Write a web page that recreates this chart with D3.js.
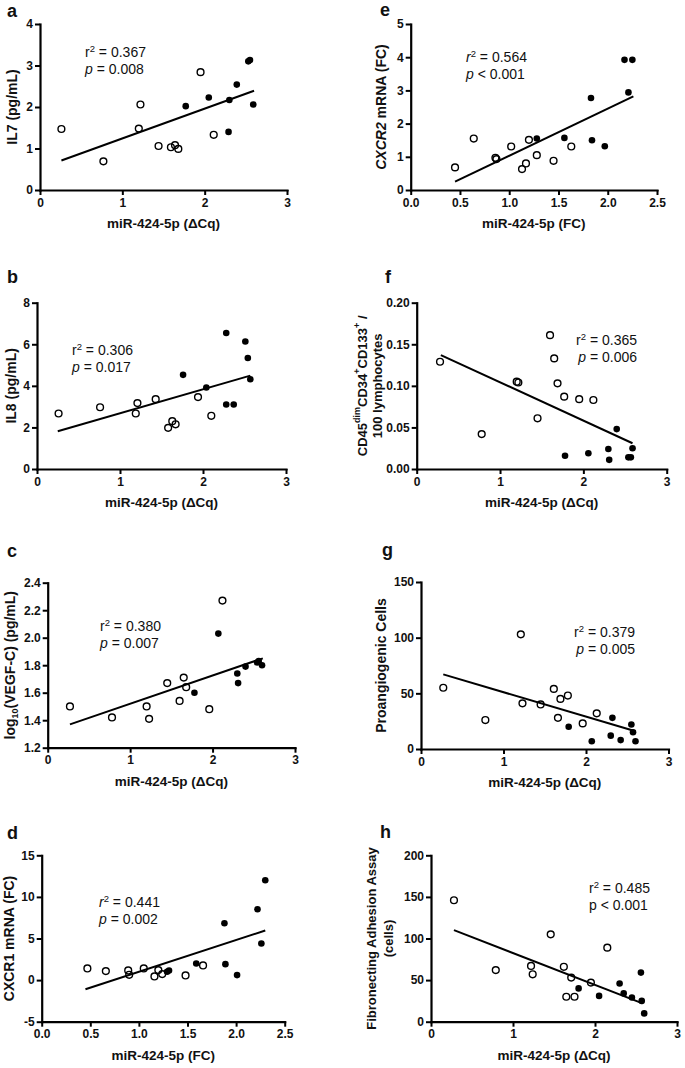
<!DOCTYPE html>
<html>
<head>
<meta charset="utf-8">
<script src="https://cdnjs.cloudflare.com/ajax/libs/d3/7.8.5/d3.min.js"></script>
<style>
	body { margin: 0; background: #fff; }
	svg text { font-family: "Liberation Sans", Arial, sans-serif; fill: #111; }
</style>
</head>
<body>
<svg id="chart" width="685" height="1068"></svg>
<script>
// Values: [miR-424-5p, measure]
var aOpen = [[0.26,1.47],[0.77,0.69],[1.20,1.48],[1.22,2.06],[1.44,1.06],[1.59,1.03],[1.64,1.08],[1.68,0.99],[1.95,2.84],[2.11,1.33]];
var aFilled = [[1.77,2.02],[2.05,2.23],[2.30,2.17],[2.29,1.40],[2.39,2.54],[2.53,3.10],[2.55,3.13],[2.59,2.06]];
var aFit = [[0.26,0.71],[2.60,2.39]];

var eOpen = [[0.45,0.68],[0.64,1.55],[0.86,0.97],[0.87,0.93],[1.02,1.31],[1.13,0.63],[1.17,0.80],[1.20,1.51],[1.28,1.05],[1.45,0.88],[1.63,1.31]];
var eFilled = [[1.28,1.55],[1.56,1.57],[1.83,2.77],[1.84,1.50],[1.97,1.32],[2.17,3.92],[2.25,3.92],[2.21,2.94]];
var eFit = [[0.45,0.25],[2.26,2.82]];

var bOpen = [[0.26,2.67],[0.76,2.97],[1.19,2.67],[1.21,3.17],[1.43,3.36],[1.58,1.98],[1.63,2.30],[1.67,2.15],[1.94,3.46],[2.10,2.56]];
var bFilled = [[1.76,4.53],[2.04,3.92],[2.28,6.54],[2.28,3.10],[2.37,3.10],[2.51,6.13],[2.54,5.34],[2.57,4.32]];
var bFit = [[0.25,1.82],[2.57,4.49]];

var fOpen = [[0.28,0.129],[0.78,0.042],[1.20,0.105],[1.22,0.104],[1.45,0.061],[1.60,0.161],[1.65,0.133],[1.69,0.103],[1.77,0.087],[1.95,0.084],[2.12,0.083]];
var fFilled = [[1.78,0.016],[2.06,0.019],[2.30,0.024],[2.31,0.011],[2.40,0.048],[2.54,0.014],[2.57,0.014],[2.59,0.025]];
var fFit = [[0.29,0.137],[2.59,0.031]];

var cOpen = [[0.27,1.50],[0.78,1.42],[1.20,1.50],[1.23,1.41],[1.45,1.67],[1.60,1.54],[1.65,1.71],[1.68,1.64],[1.96,1.48],[2.12,2.27]];
var cFilled = [[1.78,1.60],[2.07,2.03],[2.30,1.74],[2.31,1.67],[2.40,1.79],[2.54,1.82],[2.56,1.83],[2.60,1.80]];
var cFit = [[0.27,1.37],[2.61,1.85]];

var gOpen = [[0.27,55],[0.78,26],[1.21,103],[1.23,41],[1.45,40],[1.61,54],[1.66,28],[1.69,45],[1.78,48],[1.96,23],[2.13,32]];
var gFilled = [[1.79,20],[2.07,7],[2.30,12],[2.32,28],[2.42,8],[2.55,22],[2.57,15],[2.60,7]];
var gFit = [[0.27,67],[2.60,16]];

var dOpen = [[0.47,1.4],[0.66,1.08],[0.89,1.16],[0.90,0.64],[1.05,1.4],[1.16,0.44],[1.20,1.2],[1.24,0.72],[1.48,0.56],[1.66,1.76]];
var dFilled = [[1.29,1.0],[1.31,1.15],[1.59,2.0],[1.88,6.84],[1.89,1.92],[2.01,0.6],[2.22,8.52],[2.26,4.4],[2.30,12.0]];
var dFit = [[0.45,-1.1],[2.30,5.96]];

var hOpen = [[0.28,146],[0.79,62],[1.22,67],[1.24,57],[1.46,105],[1.62,66],[1.71,53],[1.65,30],[1.75,30],[1.95,47],[2.15,89]];
var hFilled = [[1.80,40],[2.05,31],[2.30,46],[2.35,34],[2.45,29],[2.56,59],[2.57,25],[2.60,10]];
var hFit = [[0.28,110],[2.58,22]];

// tick labels
var dctTicks = [0, 1, 2, 3];
var fcTicks = [0, 0.5, 1, 1.5, 2, 2.5];
var aYTicks = [0, 1, 2, 3, 4];
var eYTicks = [0, 1, 2, 3, 4, 5];
var bYTicks = [0, 2, 4, 6, 8];
var fYTicks = [0, 0.05, 0.10, 0.15, 0.20];
var cYTicks = [1.2, 1.4, 1.6, 1.8, 2.0, 2.2, 2.4];
var gYTicks = [0, 50, 100, 150];
var dYTicks = [-5, 0, 5, 10, 15];
var hYTicks = [0, 50, 100, 150, 200];

// stats: [r2, p relation]
var aStats = ['0.367', '= 0.008'];
var eStats = ['0.564', '< 0.001'];
var bStats = ['0.306', '= 0.017'];
var fStats = ['0.365', '= 0.006'];
var cStats = ['0.380', '= 0.007'];
var gStats = ['0.379', '= 0.005'];
var dStats = ['0.441', '= 0.002'];
var hStats = ['0.485', '< 0.001'];

var svg = d3.select('#chart');
var plain = function (d) { return String(d); };

function drawPanel(p) {
	var x = d3.scaleLinear().domain(p.xDomain).range([p.left, p.right]);
	var y = d3.scaleLinear().domain(p.yDomain).range([p.bottom, p.top]);
	var g = svg.append('g');

	// axes
	var xa = g.append('g')
		.attr('transform', 'translate(0,' + p.bottom + ')')
		.call(d3.axisBottom(x).tickValues(p.xTicks).tickFormat(p.xFmt).tickSize(5).tickSizeOuter(0).tickPadding(3));
	var ya = g.append('g')
		.attr('transform', 'translate(' + p.left + ',0)')
		.call(d3.axisLeft(y).tickValues(p.yTicks).tickFormat(p.yFmt).tickSize(5).tickSizeOuter(0).tickPadding(2));
	[xa, ya].forEach(function (a) {
		a.select('.domain').attr('stroke', '#000').attr('stroke-width', 2.2).attr('stroke-linecap', 'square');
		a.selectAll('.tick line').attr('stroke', '#000').attr('stroke-width', 2);
		a.selectAll('.tick text').attr('font-size', 12).attr('font-weight', 'bold')
			.attr('font-family', '"Liberation Sans", Arial, sans-serif').attr('fill', '#111');
	});

	// fit line
	g.append('path')
		.datum(p.fit)
		.attr('d', d3.line().x(function (d) { return x(d[0]); }).y(function (d) { return y(d[1]); }))
		.attr('stroke', '#000').attr('stroke-width', 2).attr('fill', 'none');

	g.selectAll('circle.open').data(p.open).enter().append('circle')
		.attr('class', 'open')
		.attr('cx', function (d) { return x(d[0]); })
		.attr('cy', function (d) { return y(d[1]); })
		.attr('r', 3.4)
		.attr('fill', 'none').attr('stroke', '#000').attr('stroke-width', 1.4);
	g.selectAll('circle.filled').data(p.filled).enter().append('circle')
		.attr('class', 'filled')
		.attr('cx', function (d) { return x(d[0]); })
		.attr('cy', function (d) { return y(d[1]); })
		.attr('r', 3.3)
		.attr('fill', '#000');

	// panel letter
	g.append('text').attr('x', p.letter[0]).attr('y', p.letter[1])
		.attr('font-size', 18).attr('font-weight', 'bold').text(p.id);

	// x title
	g.append('text')
		.attr('x', (p.left + p.right) / 2).attr('y', p.bottom + 38)
		.attr('text-anchor', 'middle').attr('font-size', 13.5).attr('font-weight', 'bold')
		.text(p.xTitle);

	// y title (one or two lines)
	p.yTitle.forEach(function (line, i) {
		var t = g.append('text')
			.attr('transform', 'translate(' + p.yTitleX[i] + ',' + (p.top + p.bottom) / 2 + ') rotate(-90)')
			.attr('text-anchor', 'middle').attr('dominant-baseline', 'central')
			.attr('font-size', p.yTitleSize || 14).attr('font-weight', 'bold');
		line.forEach(function (seg) {
			var s = t.append('tspan').text(seg.t);
			if (seg.i) s.attr('font-style', 'italic');
			if (seg.sup) s.attr('font-size', 9).attr('baseline-shift', 'super');
			if (seg.sub) s.attr('font-size', 9).attr('baseline-shift', 'sub');
		});
	});

	// stats
	var st = p.statsPos;
	var r = g.append('text').attr('x', st[0]).attr('y', st[1]).attr('text-anchor', st[2]).attr('font-size', 14);
	r.append('tspan').text('r').attr('font-style', p.rItalic ? 'italic' : 'normal');
	r.append('tspan').text('2').attr('font-size', 9.5).attr('dy', -5);
	r.append('tspan').text(' = ' + p.stats[0]).attr('dy', 5);
	var q = g.append('text').attr('x', st[0]).attr('y', st[1] + 17).attr('text-anchor', st[2]).attr('font-size', 14);
	q.append('tspan').text('p').attr('font-style', p.pItalic ? 'italic' : 'normal');
	q.append('tspan').text(' ' + p.stats[1]);
}

var dct = 'miR-424-5p (\u0394Cq)';
var fcx = 'miR-424-5p (FC)';

drawPanel({ id: 'a', open: aOpen, filled: aFilled, fit: aFit, xDomain: [0, 3], yDomain: [0, 4],
	xTicks: dctTicks, yTicks: aYTicks, xFmt: plain, yFmt: plain,
	left: 40, right: 287, top: 24, bottom: 190, letter: [7, 17], xTitle: dct,
	yTitle: [[{ t: 'IL7 (pg/mL)' }]], yTitleX: [12],
	stats: aStats, statsPos: [85, 57, 'start'], rItalic: false, pItalic: true });

drawPanel({ id: 'e', open: eOpen, filled: eFilled, fit: eFit, xDomain: [0, 2.5], yDomain: [0, 5],
	xTicks: fcTicks, yTicks: eYTicks, xFmt: d3.format('.1f'), yFmt: plain,
	left: 410.7, right: 657, top: 24, bottom: 190, letter: [380, 16], xTitle: fcx,
	yTitle: [[{ t: 'CXCR2', i: true }, { t: ' mRNA (FC)' }]], yTitleX: [381],
	stats: eStats, statsPos: [466, 62, 'start'], rItalic: true, pItalic: true });

drawPanel({ id: 'b', open: bOpen, filled: bFilled, fit: bFit, xDomain: [0, 3], yDomain: [0, 8],
	xTicks: dctTicks, yTicks: bYTicks, xFmt: plain, yFmt: plain,
	left: 37, right: 286, top: 302.7, bottom: 469, letter: [7, 283], xTitle: dct,
	yTitle: [[{ t: 'IL8 (pg/mL)' }]], yTitleX: [11],
	stats: bStats, statsPos: [72, 355, 'start'], rItalic: false, pItalic: true });

drawPanel({ id: 'f', open: fOpen, filled: fFilled, fit: fFit, xDomain: [0, 3], yDomain: [0, 0.2],
	xTicks: dctTicks, yTicks: fYTicks, xFmt: plain, yFmt: d3.format('.2f'),
	left: 416.7, right: 666.7, top: 302.7, bottom: 469, letter: [385, 283], xTitle: dct,
	yTitle: [[{ t: 'CD45' }, { t: 'dim', sup: true }, { t: 'CD34' }, { t: '+', sup: true }, { t: 'CD133' }, { t: '+', sup: true }, { t: ' /' }],
		[{ t: '100 lymphocytes' }]], yTitleX: [362, 377], yTitleSize: 13,
	stats: fStats, statsPos: [637, 345, 'end'], rItalic: false, pItalic: true });

drawPanel({ id: 'c', open: cOpen, filled: cFilled, fit: cFit, xDomain: [0, 3], yDomain: [1.2, 2.4],
	xTicks: dctTicks, yTicks: cYTicks, xFmt: plain, yFmt: d3.format('.1f'),
	left: 47.7, right: 295, top: 582.7, bottom: 747.7, letter: [7, 557], xTitle: dct,
	yTitle: [[{ t: 'log' }, { t: '10', sub: true }, { t: '(VEGF-C) (pg/mL)' }]], yTitleX: [10],
	stats: cStats, statsPos: [100, 631, 'start'], rItalic: false, pItalic: true });

drawPanel({ id: 'g', open: gOpen, filled: gFilled, fit: gFit, xDomain: [0, 3], yDomain: [0, 150],
	xTicks: dctTicks, yTicks: gYTicks, xFmt: plain, yFmt: plain,
	left: 421, right: 668.5, top: 582, bottom: 749, letter: [382, 556], xTitle: dct,
	yTitle: [[{ t: 'Proangiogenic Cells' }]], yTitleX: [381],
	stats: gStats, statsPos: [635, 637, 'end'], rItalic: false, pItalic: true });

drawPanel({ id: 'd', open: dOpen, filled: dFilled, fit: dFit, xDomain: [0, 2.5], yDomain: [-5, 15],
	xTicks: fcTicks, yTicks: dYTicks, xFmt: d3.format('.1f'), yFmt: plain,
	left: 41.7, right: 284.7, top: 855.3, bottom: 1021.7, letter: [7, 839], xTitle: fcx,
	yTitle: [[{ t: 'CXCR1 mRNA (FC)' }]], yTitleX: [9],
	stats: dStats, statsPos: [99, 907, 'start'], rItalic: true, pItalic: true });

drawPanel({ id: 'h', open: hOpen, filled: hFilled, fit: hFit, xDomain: [0, 3], yDomain: [0, 200],
	xTicks: dctTicks, yTicks: hYTicks, xFmt: plain, yFmt: plain,
	left: 431, right: 677, top: 855.3, bottom: 1021.7, letter: [380, 838], xTitle: dct,
	yTitle: [[{ t: 'Fibronecting Adhesion Assay' }], [{ t: '(cells)' }]], yTitleX: [371, 388], yTitleSize: 13,
	stats: hStats, statsPos: [589, 893, 'start'], rItalic: false, pItalic: false });
</script>
</body>
</html>
